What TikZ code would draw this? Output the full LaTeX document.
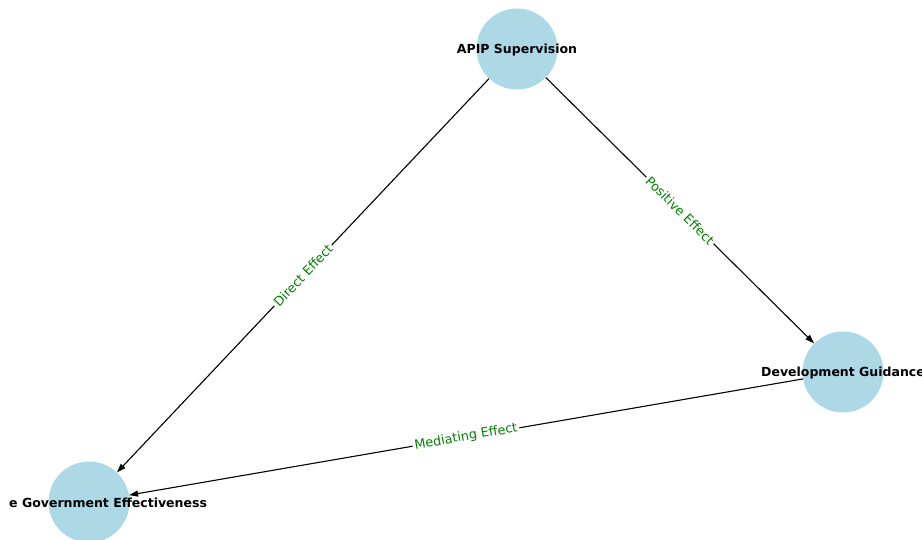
\documentclass[tikz,border=0pt]{standalone}
\usepackage{fontspec}
\setmainfont{DejaVu Sans}
\usetikzlibrary{arrows.meta}
\definecolor{nodeblue}{HTML}{ADD8E6}
\definecolor{labelgreen}{HTML}{008000}
\begin{document}
\begin{tikzpicture}[x=1pt,y=-1pt,
  circ/.style={circle,fill=nodeblue,minimum size=81pt,inner sep=0pt},
  nlabel/.style={font=\fontsize{12.5}{15}\selectfont\bfseries,inner sep=0pt,text=black},
  conn/.style={-{Triangle[length=9pt,width=6pt]},line width=1.1pt,black},
  elabel/.style={font=\fontsize{12.8}{15}\selectfont,text=labelgreen,fill=white,sloped,inner sep=2pt}]
\useasboundingbox (0,0) rectangle (922,539);
\clip (0,0) rectangle (922,539);
\node[circ] (apip) at (517,49) {};
\node[circ] (dg) at (843,372) {};
\node[circ] (ge) at (89,502) {};
\draw[conn] (apip) -- node[elabel] {Positive Effect} (dg);
\draw[conn] (apip) -- node[elabel] {Direct Effect} (ge);
\draw[conn] (dg) -- node[elabel] {Mediating Effect} (ge);
\node[nlabel] (apiplabel) at ([yshift=-1pt]apip.center) {APIP Supervision};
\node[nlabel] (dglabel) at ([yshift=-1pt]dg.center) {Development Guidance};
\node[nlabel,anchor=west] (gelabel) at (9,502.5) {e Government Effectiveness};
\end{tikzpicture}
\end{document}
